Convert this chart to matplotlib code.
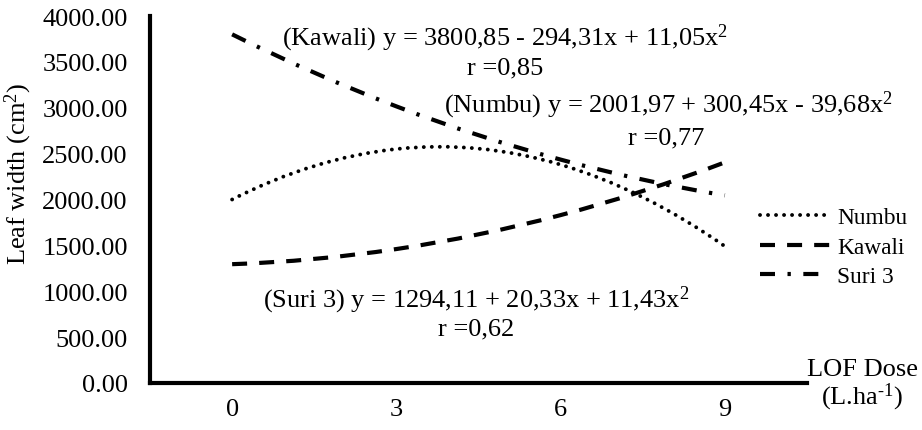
import numpy as np
import matplotlib
matplotlib.use('Agg')
import matplotlib.pyplot as plt
from matplotlib.path import Path
from matplotlib.patches import PathPatch
from matplotlib.lines import Line2D

plt.rcParams['font.family'] = 'Liberation Serif'
plt.rcParams['mathtext.fontset'] = 'custom'
plt.rcParams['mathtext.rm'] = 'Liberation Serif'
plt.rcParams['mathtext.it'] = 'Liberation Serif:italic'

# Data
doses = ['0', '3', '6', '9']
numbu = [2000, 2550, 2380, 1490]
kawali = [1295, 1460, 1830, 2405]
suri3 = [3800, 3015, 2435, 2045]
y_ticks = [0, 500, 1000, 1500, 2000, 2500, 3000, 3500, 4000]

W, H = 922, 431
FS = 19       # main text size (pt)
FS_LEG = 16.8


def fx(px):
    return px / W


def fy(py):
    return 1 - py / H


# smooth line through the points (Excel-like smoothing, cubic bezier)
def smooth_path(xs, ys):
    pts = np.column_stack([xs, ys]).astype(float)
    first = 3 * pts[0] - 3 * pts[1] + pts[2]
    last = 3 * pts[-1] - 3 * pts[-2] + pts[-3]
    ext = np.vstack([first, pts, last])
    verts = [pts[0]]
    codes = [Path.MOVETO]
    for i in range(1, len(ext) - 2):
        p0, p1, p2, p3 = ext[i - 1], ext[i], ext[i + 1], ext[i + 2]
        verts += [p1 + (p2 - p0) / 6, p2 - (p3 - p1) / 6, p2]
        codes += [Path.CURVE4] * 3
    return Path(verts, codes)


styles = {
    'Numbu': dict(lw=2.8, ls=(0, (0.01, 2.05)), cap='round'),
    'Kawali': dict(lw=3.0, ls=(0, (3.6, 2.9)), cap='butt'),
    'Suri 3': dict(lw=3.0, ls=(0, (3.6, 3.0, 0.8, 3.0)), cap='butt'),
}
series = {'Numbu': numbu, 'Kawali': kawali, 'Suri 3': suri3}

fig = plt.figure(figsize=(W / 100, H / 100), dpi=100)
ax = fig.add_axes([fx(150), fy(384), fx(807) - fx(150), fy(17) - fy(384)])

x = np.arange(len(doses))
handles = []
for name, vals in series.items():
    st = styles[name]
    patch = PathPatch(smooth_path(x, vals), fill=False, edgecolor='black',
                      lw=st['lw'], linestyle=st['ls'], capstyle=st['cap'])
    ax.add_patch(patch)
    handles.append(Line2D([], [], color='black', lw=st['lw'], linestyle=st['ls'],
                          dash_capstyle=st['cap'], label=name))

ax.set_xlim(-0.5, len(doses) - 0.5)
ax.set_ylim(0, 4000)
ax.set_xticks(x)
ax.set_xticklabels(doses)
ax.set_yticks(y_ticks)
ax.set_yticklabels(['%.2f' % v for v in y_ticks])
ax.tick_params(length=0, labelsize=FS, colors='black')
ax.tick_params(axis='y', pad=16)
ax.tick_params(axis='x', pad=11)
for s in ['top', 'right']:
    ax.spines[s].set_visible(False)
for s in ['left', 'bottom']:
    ax.spines[s].set_linewidth(3.0)
    ax.spines[s].set_capstyle('projecting')

fig.text(fx(18), fy(174), 'Leaf width (cm$^{\\mathregular{2}}$)', rotation=90,
         ha='center', va='center', fontsize=FS)
fig.text(fx(862), fy(370), 'LOF Dose', ha='center', va='center', fontsize=FS)
fig.text(fx(862), fy(397), '(L.ha$^{\\text{-1}}$)', ha='center', va='center', fontsize=FS)

# regression equations
fig.text(fx(505), fy(38), '(Kawali) y = 3800,85 - 294,31x + 11,05x$^{\\mathregular{2}}$',
         ha='center', va='center', fontsize=FS)
fig.text(fx(505), fy(68), 'r =0,85', ha='center', va='center', fontsize=FS)
fig.text(fx(668), fy(105), '(Numbu) y = 2001,97 + 300,45x - 39,68x$^{\\mathregular{2}}$',
         ha='center', va='center', fontsize=FS)
fig.text(fx(666), fy(138), 'r =0,77', ha='center', va='center', fontsize=FS)
fig.text(fx(476), fy(300), '(Suri 3) y = 1294,11 + 20,33x + 11,43x$^{\\mathregular{2}}$',
         ha='center', va='center', fontsize=FS)
fig.text(fx(476), fy(329), 'r =0,62', ha='center', va='center', fontsize=FS)

fig.legend(handles=handles, loc='center left', bbox_to_anchor=(fx(760), fy(248)),
           frameon=False, fontsize=FS_LEG, handlelength=3.0, handletextpad=0.3,
           labelspacing=0.34, borderpad=0, borderaxespad=0)

fig.savefig('out.png', dpi=100)
